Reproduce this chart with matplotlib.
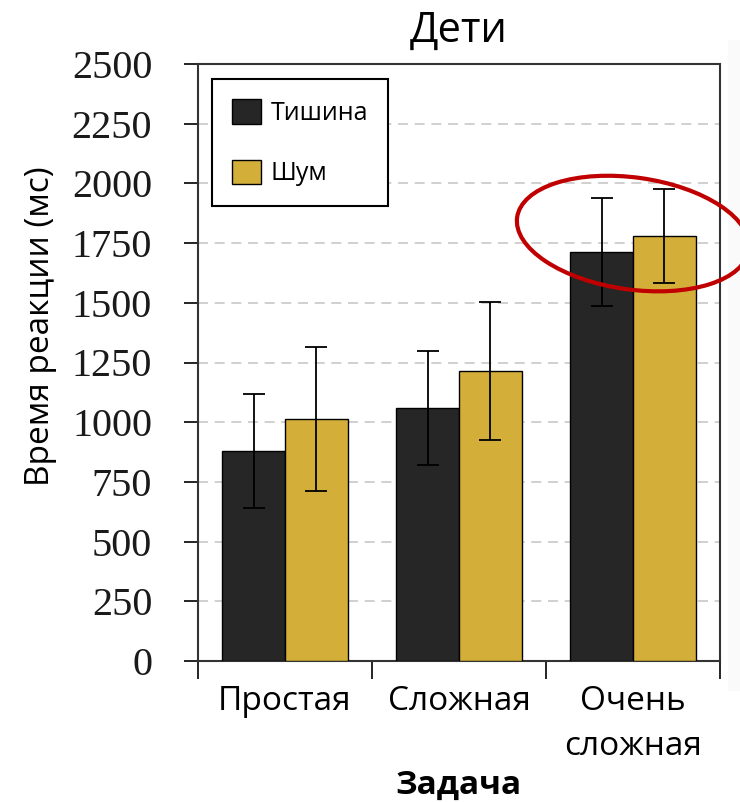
import matplotlib
matplotlib.use('Agg')
import matplotlib.pyplot as plt
import matplotlib.transforms as mtransforms
from matplotlib.patches import Ellipse, Rectangle
import numpy as np

# données
categories = ['Простая', 'Сложная', 'Очень\nсложная']
silence = [880, 1060, 1712]
silence_err = [238, 240, 227]
noise = [1015, 1215, 1778]
noise_err = [302, 290, 197]
yticks = [0, 250, 500, 750, 1000, 1250, 1500, 1750, 2000, 2250, 2500]

plt.rcParams['font.family'] = ['Open Sans', 'DejaVu Sans']

fig = plt.figure(figsize=(7.4, 8.02), dpi=100)
ax = fig.add_axes([198 / 740, 141 / 802, 522 / 740, 597 / 802])

# bande grise à droite de l'image
fig.add_artist(Rectangle((728 / 740, 112 / 802), 12 / 740, 650 / 802,
                         transform=fig.transFigure, color='#fafafa', zorder=-5))

x = np.arange(len(categories))
w = 0.36
ax.bar(x - w / 2, silence, w, color='#262626', edgecolor='black', linewidth=1, label='Тишина', zorder=3)
ax.bar(x + w / 2, noise, w, color='#d3af3a', edgecolor='black', linewidth=1, label='Шум', zorder=3)
ax.errorbar(x - w / 2, silence, yerr=silence_err, fmt='none', ecolor='black', elinewidth=1.3,
            capsize=8, capthick=1.3, zorder=4)
ax.errorbar(x + w / 2, noise, yerr=noise_err, fmt='none', ecolor='black', elinewidth=1.3,
            capsize=8, capthick=1.3, zorder=4)

ax.set_xlim(-0.5, 2.5)
ax.set_ylim(0, 2500)
ax.set_yticks(yticks)
ax.set_yticklabels([str(v) for v in yticks], family='Liberation Serif', fontsize=29, color='#1a1a1a')
ax.tick_params(axis='y', direction='out', length=10, width=1.2, pad=23)

ax.set_xticks(x)
ax.set_xticklabels(categories, fontsize=24, linespacing=1.5, va='top')
ax.set_xticks([-0.5, 0.5, 1.5, 2.5], minor=True)
ax.tick_params(axis='x', which='major', length=0, pad=17)
ax.tick_params(axis='x', which='minor', direction='out', length=13, width=1.2)

ax.yaxis.grid(True, linestyle=(0, (6, 4)), color='#c8c8c8', linewidth=1.2, zorder=0)
ax.set_axisbelow(True)
for s in ax.spines.values():
    s.set_linewidth(1.5)
    s.set_color('#333333')

ax.set_title('Дети', fontsize=30, pad=16)
ax.set_xlabel('Задача', fontsize=24, fontweight='bold')
ax.xaxis.set_label_coords(0.5, -0.18)
ax.set_ylabel('Время реакции (мс)', fontsize=24)
ax.yaxis.set_label_coords(-0.27, 0.56)

leg = ax.legend(loc='upper left', bbox_to_anchor=(0.027, 0.975), borderaxespad=0,
                fontsize=18, fancybox=False, framealpha=1, edgecolor='black',
                handlelength=1.15, handleheight=1.15, labelspacing=1.35,
                handletextpad=0.4, borderpad=0.8)
leg.get_frame().set_linewidth(1.5)

# ellipse rouge autour du groupe "Очень сложная"
trans = fig.dpi_scale_trans + mtransforms.ScaledTranslation(x[2], 1790, ax.transData)
ax.add_patch(Ellipse((0, 0), 2.34, 1.12, angle=-8, transform=trans, fill=False,
                     edgecolor='#c00000', linewidth=3, clip_on=False, zorder=6))

plt.savefig('out.png', dpi=100)
